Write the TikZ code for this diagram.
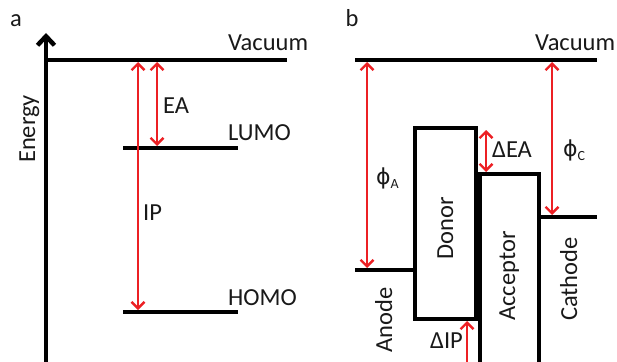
\documentclass[tikz,border=0pt]{standalone}
\usepackage{fontspec}
\setmainfont{Carlito}
\newfontfamily\phifont{DejaVu Sans}
\usetikzlibrary{arrows.meta}
\definecolor{gapred}{RGB}{236,32,36}
\newcommand{\lowsub}[1]{\raisebox{-4pt}{\fontsize{14}{14}\selectfont #1}}
\newcommand{\wphi}{{\phifont\fontsize{22}{26}\selectfont ϕ}}

\begin{document}
\begin{tikzpicture}[x=1pt,y=-1pt,
  txt/.style={font=\fontsize{24.5}{28}\selectfont,inner sep=0pt,text=black!90},
  vtxt/.style={txt,rotate=90,anchor=base},
  level/.style={line width=4pt},
  gap/.style={gapred,line width=2.4pt,shorten <=2pt,shorten >=2pt,
    {Straight Barb[length=6.5pt,width=13pt]}-{Straight Barb[length=6.5pt,width=13pt]}}]
  \useasboundingbox (0,0) rectangle (617,361);
  \clip (0,0) rectangle (617,361);

  % a: levels of one molecule
  \node[txt,anchor=base] (lbla) at (16,27) {a};
  \coordinate (axbot) at (46,370);
  \coordinate (axtop) at (46,33);
  \draw[line width=4.5pt,-{Straight Barb[length=9pt,width=17pt]}] (axbot) -- (axtop);
  \node[vtxt] (energy) at (35,129) {Energy};
  \coordinate (vacaL) at (46,60);  \coordinate (vacaR) at (287,60);
  \coordinate (lumoL) at (123,148); \coordinate (lumoR) at (238,148);
  \coordinate (homoL) at (123,312); \coordinate (homoR) at (238,312);
  \draw[level] (vacaL) -- (vacaR);
  \draw[level] (lumoL) -- (lumoR);
  \draw[level] (homoL) -- (homoR);
  \node[txt,anchor=base west] (vaca) at (228,50) {Vacuum};
  \node[txt,anchor=base west] (lumo) at (228,140) {LUMO};
  \node[txt,anchor=base west] (homo) at (228,305) {HOMO};
  % IP and EA
  \coordinate (ip1) at (138,60);  \coordinate (ip2) at (138,312);
  \coordinate (ea1) at (157,60);  \coordinate (ea2) at (157,148);
  \draw[gap] (ip1) -- (ip2);
  \draw[gap] (ea1) -- (ea2);
  \node[txt,anchor=base west] (ip) at (143,220) {IP};
  \node[txt,anchor=base west] (ea) at (163,113) {EA};

  % b: device
  \node[txt,anchor=base] (lblb) at (352,27) {b};
  \coordinate (vacbL) at (355,60);   \coordinate (vacbR) at (597,60);
  \coordinate (anodeL) at (355,270); \coordinate (anodeR) at (415,270);
  \coordinate (cathL) at (538.5,217); \coordinate (cathR) at (597,217);
  \draw[level] (vacbL) -- (vacbR);
  \draw[level] (anodeL) -- (anodeR);
  \draw[level] (cathL) -- (cathR);
  \draw[level] (415,128) rectangle (476,319);
  \draw[level] (480,174) rectangle (538.5,385);
  \node[txt,anchor=base west] (vacb) at (535,50) {Vacuum};
  \node[vtxt] (donor) at (453,228) {Donor};
  \node[vtxt] (acceptor) at (515,276) {Acceptor};
  \node[vtxt] (cathode) at (577,279) {Cathode};
  \node[vtxt] (anode) at (392,320) {Anode};
  % offsets and work functions
  \coordinate (phia1) at (367,60);  \coordinate (phia2) at (367,270);
  \coordinate (phic1) at (552,60);  \coordinate (phic2) at (552,217);
  \coordinate (dea1) at (486,128);  \coordinate (dea2) at (486,174);
  \coordinate (dip1) at (467,319);  \coordinate (dip2) at (467,385);
  \draw[gap] (phia1) -- (phia2);
  \draw[gap] (phic1) -- (phic2);
  \draw[gap] (dea1) -- (dea2);
  \draw[gap] (dip1) -- (dip2);
  \node[txt,anchor=base west] (phia) at (376,184) {\wphi\lowsub{A}};
  \node[txt,anchor=base west] (phic) at (563,156) {\wphi\lowsub{C}};
  \node[txt,anchor=base west] (dea) at (492,157) {ΔEA};
  \node[txt,anchor=base west] (dip) at (430,348) {ΔIP};
\end{tikzpicture}
\end{document}
